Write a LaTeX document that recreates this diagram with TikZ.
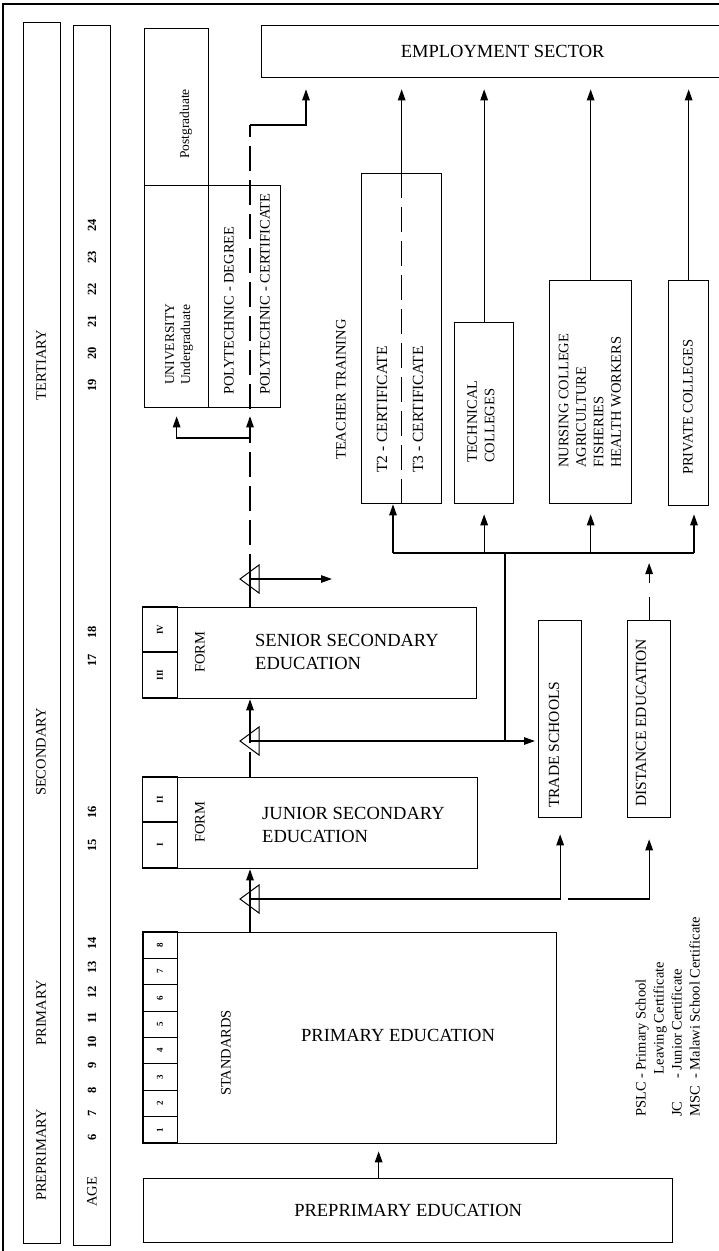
\documentclass[tikz,border=0pt]{standalone}
\usepackage{fontspec}
\setmainfont{Liberation Serif}
\usetikzlibrary{arrows.meta}
\newcommand\fBig{\fontsize{18.5}{23}\selectfont}
\newcommand\fMid{\fontsize{14.5}{17.5}\selectfont}
\newcommand\fLrg{\fontsize{15.5}{18}\selectfont}
\newcommand\fSml{\fontsize{13.5}{16}\selectfont}
\newcommand\fAge{\fontsize{12.5}{14}\selectfont\bfseries}
\newcommand\fCell{\fontsize{9}{10}\selectfont\bfseries}
\newcommand\fLeg{\fontsize{14.5}{18}\selectfont}
\begin{document}
\begin{tikzpicture}[x=1pt,y=-1pt,
  box/.style={draw, line width=1.3pt, inner sep=0pt, anchor=north west},
  cell/.style={draw, line width=1.1pt, inner sep=0pt, rotate=90, font=\fCell},
  vtxt/.style={rotate=90, inner sep=0pt, align=left},
  htxt/.style={inner sep=0pt, align=left},
  ln/.style={line width=1.3pt},
  arr/.style={line width=1.3pt, -{Triangle[length=11pt,width=7.5pt]}},
  dsh/.style={line width=1.3pt, dash pattern=on 25pt off 9pt},
  tri/.style={line width=1pt}
]
\fill[white] (0,0) rectangle (719,1251);
\useasboundingbox (0,0) rectangle (719,1251);

% page frame
\draw[line width=1.2pt] (3,1251) -- (3,4) -- (719,4);

% level and age bars
\node[box, minimum width=37pt, minimum height=1221pt] (lvl) at (23,22) {};
\node[box, minimum width=37pt, minimum height=1220pt] (agebar) at (73,25) {};
\node[vtxt, font=\fMid] (tTer) at (41,365) {TERTIARY};
\node[vtxt, font=\fMid] (tSec) at (41,752) {SECONDARY};
\node[vtxt, font=\fMid] (tPri) at (41,1013) {PRIMARY};
\node[vtxt, font=\fMid] (tPre) at (41,1155) {PREPRIMARY};
\node[vtxt, font=\fMid] (tAge) at (92,1192) {AGE};
\foreach \a/\yy in {6/1137,7/1113,8/1090,9/1065,10/1042,11/1018,12/992,13/967,14/943,
                    15/845,16/812,17/660,18/632,19/385,20/353,21/321,22/289,23/257,24/225}
  \node[vtxt, font=\fAge] (age\a) at (92,\yy) {\a};

% tertiary institutions
\node[box, minimum width=64pt, minimum height=157pt] (post) at (144,28) {};
\node[box, minimum width=64pt, minimum height=222pt] (univ) at (144,185) {};
\node[box, minimum width=72pt, minimum height=222pt] (poly) at (208,185) {};
\node[box, minimum width=482pt, minimum height=52pt, font=\fBig] (emp) at (261,25) {EMPLOYMENT SECTOR};
\node[box, minimum width=80pt, minimum height=330pt] (t23) at (361,173) {};
\node[box, minimum width=59pt, minimum height=181pt] (tech) at (454,322) {};
\node[box, minimum width=82pt, minimum height=223pt] (nurse) at (549,280) {};
\node[box, minimum width=40pt, minimum height=225pt] (priv) at (668,280) {};

\node[vtxt, font=\fSml] (tPost) at (186,124) {Postgraduate};
\node[vtxt, font=\fSml, anchor=west] (tUniv) at (179,385) {UNIVERSITY\\Undergraduate};
\node[vtxt, font=\fMid, anchor=west] (tPolyD) at (229,395) {POLYTECHNIC - DEGREE};
\node[vtxt, font=\fMid, anchor=west] (tPolyC) at (265,395) {POLYTECHNIC - CERTIFICATE};
\node[vtxt, font=\fMid, anchor=west] (tTeach) at (341,460) {TEACHER TRAINING};
\node[vtxt, font=\fLrg, anchor=west] (tT2) at (382,473) {T2 - CERTIFICATE};
\node[vtxt, font=\fLrg, anchor=west] (tT3) at (418,473) {T3 - CERTIFICATE};
\node[vtxt, font=\fMid, anchor=west] (tTech) at (481,463) {TECHNICAL\\COLLEGES};
\node[vtxt, font=\fMid, anchor=west] (tNurse) at (590,468) {NURSING COLLEGE\\AGRICULTURE\\FISHERIES\\HEALTH WORKERS};
\node[vtxt, font=\fMid, anchor=west] (tPriv) at (688,475) {PRIVATE COLLEGES};

% secondary level
\node[box, minimum width=334pt, minimum height=91pt] (sse) at (142,607) {};
\node[box, minimum width=335pt, minimum height=91pt] (jse) at (142,777) {};
\node[box, minimum width=43pt, minimum height=197pt] (trade) at (538,620) {};
\node[box, minimum width=43pt, minimum height=197pt] (dist) at (627,620) {};
\node[cell, minimum width=45pt, minimum height=35.5pt] (fIV) at (160,629.5) {IV};
\node[cell, minimum width=46pt, minimum height=35.5pt] (fIII) at (160,675) {III};
\node[cell, minimum width=45pt, minimum height=35.5pt] (fII) at (160,799.5) {II};
\node[cell, minimum width=46pt, minimum height=35.5pt] (fI) at (160,845) {I};
\node[vtxt, font=\fMid] (tForm3) at (200,652) {FORM};
\node[vtxt, font=\fMid] (tForm1) at (200,822) {FORM};
\node[htxt, font=\fBig, anchor=west] (tSSE) at (255,651.5) {SENIOR SECONDARY\\EDUCATION};
\node[htxt, font=\fBig, anchor=west] (tJSE) at (262,825) {JUNIOR SECONDARY\\EDUCATION};
\node[vtxt, font=\fLrg, anchor=west] (tTrade) at (554,808) {TRADE SCHOOLS};
\node[vtxt, font=\fLrg, anchor=west] (tDist) at (641,807) {DISTANCE EDUCATION};

% primary and preprimary
\node[box, minimum width=413pt, minimum height=211pt] (prim) at (143,932) {};
\foreach \k in {1,...,8}
  \node[cell, minimum width=26.4pt, minimum height=35.5pt] (std\k) at (160,{1143-26.375*(\k-0.5)}) {\k};
\node[vtxt, font=\fMid] (tStd) at (226,1053) {STANDARDS};
\node[font=\fBig, inner sep=0pt] (tPrim) at (398,1035) {PRIMARY EDUCATION};
\node[box, minimum width=529pt, minimum height=64pt, font=\fBig] (prep) at (143,1178) {PREPRIMARY EDUCATION};

% abbreviations
\node[vtxt, font=\fLeg, anchor=west] (legend) at (669,1117)
  {\begin{tabular}{@{}l@{ }l@{}}PSLC & - Primary School\\ & \hspace{0.3em}Leaving Certificate\\
   JC & - Junior Certificate\\ MSC & - Malawi School Certificate\end{tabular}};

% main progression line and branch points
\coordinate (sp) at (250,0);
\coordinate (tr1) at (250,899);
\coordinate (tr2) at (250,741);
\coordinate (tr3) at (250,579);
\coordinate (bus) at (505,553);
\coordinate (busL) at (393,553);
\coordinate (busR) at (694,553);
\coordinate (dj) at (568,899);
\coordinate (exitR) at (332,579);
\coordinate (spTop) at (250,125);
\coordinate (br) at (250,438);
\coordinate (empIn) at ([xshift=45pt]emp.south west);

\draw[arr, shorten >=7pt] ([xshift=-29.5pt]prep.north) -- ([xshift=-29.5pt]prep.north |- prim.south);
\draw[ln] (prim.north -| sp) -- (tr1);
\draw[arr] (tr1) -- (jse.south -| sp);
\draw[arr, shorten >=16pt] (tr1) -- (tr1 -| trade.south) -- (trade.south);
\draw[arr, shorten >=21pt] (dj) -- (dj -| dist.south) -- (dist.south);

\draw[dsh] (jse.north -| sp) -- (tr2);
\draw[arr] (tr2) -- (sse.south -| sp);
\draw[arr, shorten >=3pt] (tr2) -- (tr2 -| trade.west);
\draw[ln] (tr2 -| bus) -- (bus);
\draw[ln] (busL) -- (busR);
\draw[arr] (busL) -- (busL |- t23.south);
\draw[arr, shorten >=10pt] (bus -| tech.south) -- (tech.south);
\draw[arr, shorten >=10pt] (bus -| nurse.south) -- (nurse.south);
\draw[arr, shorten >=8pt] (busR) -- (busR |- priv.south);
\draw[arr, dash pattern=on 23pt off 14pt, shorten >=10pt] (dist.north) -- (dist.north |- bus);

\draw[ln] (sse.north -| sp) -- (tr3);
\draw[arr] (tr3) -- (exitR);
\draw[dsh] (tr3) -- (spTop);
\draw[arr, shorten >=8pt] (br) -- (br -| univ.south) -- (univ.south);
\draw[arr, shorten >=8pt] (br) -- (poly.south -| sp);
\draw[arr, shorten >=11pt] (spTop) -- (spTop -| empIn) -- (empIn);

\draw[dsh] (t23.north) -- (t23.south);
\draw[arr, shorten >=11pt] (t23.north) -- (t23.north |- emp.south);
\draw[arr, shorten >=11pt] (tech.north) -- (tech.north |- emp.south);
\draw[arr, shorten >=11pt] (nurse.north) -- (nurse.north |- emp.south);
\draw[arr, shorten >=11pt] (priv.north) -- (priv.north |- emp.south);

\foreach \t in {tr1,tr2,tr3}
  \draw[tri] ([xshift=-10pt]\t) -- ([xshift=9pt,yshift=14pt]\t) -- ([xshift=9pt,yshift=-14pt]\t) -- cycle;
\end{tikzpicture}
\end{document}
